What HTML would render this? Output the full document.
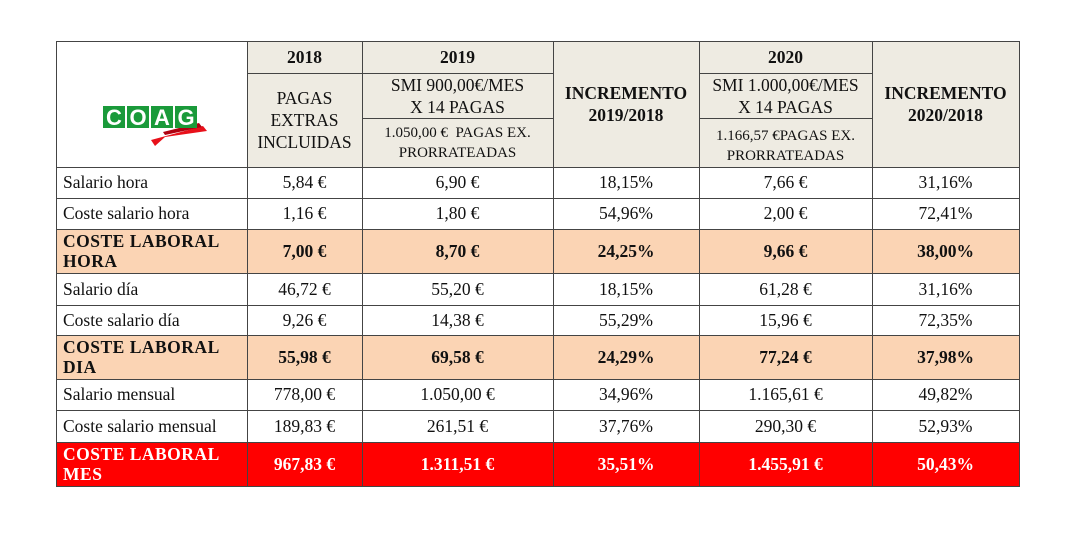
<!DOCTYPE html>
<html><head><meta charset="utf-8">
<style>
body{margin:0;width:1076px;height:555px;background:#fff;position:relative;overflow:hidden;font-family:"Liberation Serif",serif;color:#111}
.c{position:absolute;box-sizing:border-box;display:flex;align-items:center;justify-content:center;text-align:center;font-size:17.5px;line-height:19px}
.l{justify-content:flex-start;text-align:left;padding-left:7px}
.b{font-weight:bold}
.lb{letter-spacing:0.5px;line-height:20px}
.hd{line-height:22px}
.hl{position:absolute;height:1px;background:#444}
.vl{position:absolute;width:1px;background:#444}
</style></head><body>
<div id="tbl"></div>
<div style="position:absolute;left:103px;top:106px;width:105px;height:42px">
<svg width="105" height="42" viewBox="0 0 105 42">
<path d="M48 34 L100 20 L104 25 L62 31 L52 40 Z" fill="#e8101a"/>
<path d="M60 26 L96 17 L99 21 L62 29 Z" fill="#b00010"/>
<rect x="0" y="0" width="22" height="22" fill="#1a9a3a"/><rect x="24" y="0" width="22" height="22" fill="#1a9a3a"/><rect x="48" y="0" width="22" height="22" fill="#1a9a3a"/><rect x="72" y="0" width="22" height="22" fill="#1a9a3a"/>
<text x="11" y="19" font-family="Liberation Sans" font-weight="bold" font-size="22" fill="#fff" text-anchor="middle">C</text>
<text x="35" y="19" font-family="Liberation Sans" font-weight="bold" font-size="22" fill="#fff" text-anchor="middle">O</text>
<text x="59" y="19" font-family="Liberation Sans" font-weight="bold" font-size="22" fill="#fff" text-anchor="middle">A</text>
<text x="83" y="19" font-family="Liberation Sans" font-weight="bold" font-size="22" fill="#fff" text-anchor="middle">G</text>
</svg></div>
<script>
const cols=[56,247,362,553,699,872,1019];
const rowsY=[167,198,229,273,305,335,379,410,442,486];
const labels=["Salario hora","Coste salario hora","COSTE LABORAL HORA","Salario día","Coste salario día","COSTE LABORAL DIA","Salario mensual","Coste salario mensual","COSTE LABORAL MES"];
const v2018=["5,84 €","1,16 €","7,00 €","46,72 €","9,26 €","55,98 €","778,00 €","189,83 €","967,83 €"];
const v2019=["6,90 €","1,80 €","8,70 €","55,20 €","14,38 €","69,58 €","1.050,00 €","261,51 €","1.311,51 €"];
const inc19=["18,15%","54,96%","24,25%","18,15%","55,29%","24,29%","34,96%","37,76%","35,51%"];
const v2020=["7,66 €","2,00 €","9,66 €","61,28 €","15,96 €","77,24 €","1.165,61 €","290,30 €","1.455,91 €"];
const inc20=["31,16%","72,41%","38,00%","31,16%","72,35%","37,98%","49,82%","52,93%","50,43%"];
const rowType=["n","n","p","n","n","p","n","n","r"];
const T=document.getElementById('tbl');
function cell(x,y,w,h,html,cls,bg,color,name){
  const d=document.createElement('div');
  d.className='c '+(cls||'');
  d.style.cssText=`left:${x}px;top:${y}px;width:${w}px;height:${h}px;`+(bg?`background:${bg};`:'')+(color?`color:${color};`:'');
  d.innerHTML=html;
  
  
  T.appendChild(d);return d;
}
const hb='#eeebe2';
cell(247,41,772,126,'','',hb,null,'header-background');
cell(247,41,115,32,'2018','b',null,null,'header-2018');
cell(362,41,191,32,'2019','b',null,null,'header-2019');
cell(553,41,146,126,'INCREMENTO<br>2019/2018','b hd',null,null,'header-increment-2019');
cell(699,41,173,32,'2020','b',null,null,'header-2020');
cell(872,41,147,126,'INCREMENTO<br>2020/2018','b hd',null,null,'header-increment-2020');
cell(247,73,115,94,'PAGAS<br>EXTRAS<br>INCLUIDAS','hd',null,null,'header-2018-sub');
cell(362,73,191,45,'SMI 900,00€/MES<br>X 14 PAGAS','hd',null,null,'header-2019-smi');
cell(362,118,191,49,'<span style="font-size:15px;line-height:20px">1.050,00 €&nbsp; PAGAS EX.<br>PRORRATEADAS</span>','',null,null,'header-2019-prorrata');
cell(699,73,173,45,'SMI 1.000,00€/MES<br>X 14 PAGAS','hd',null,null,'header-2020-smi');
cell(699,118,173,49,'<span style="font-size:15px;line-height:20px;padding-top:6px">1.166,57 €PAGAS EX.<br>PRORRATEADAS</span>','',null,null,'header-2020-prorrata');
const cols5=[labels,v2018,v2019,inc19,v2020,inc20];
for(let i=0;i<labels.length;i++){
  const y=rowsY[i],h=rowsY[i+1]-y,t=rowType[i];
  const bg=t==='p'?'#fbd4b4':t==='r'?'#ff0000':null;
  const fc=t==='r'?'#fff':null;
  if(bg) cell(56,y,963,h,'','',bg,null,'row-background-'+i);
  for(let c=0;c<6;c++){
    let txt=cols5[c][i];
    let cls=(c===0?'l ':'')+(t!=='n'?'b':'');
    if(c===0&&t!=='n'){const p=txt.split(' ');txt=p.slice(0,2).join(' ')+'<br>'+p.slice(2).join(' ');cls+=' lb';}
    cell(cols[c],y,cols[c+1]-cols[c],h,txt,cls,null,fc,'cell-r'+i+'-c'+c);
  }
}
function hl(x1,x2,y){const d=document.createElement('div');d.className='hl';d.style.cssText=`left:${x1}px;top:${y}px;width:${x2-x1+1}px`;T.appendChild(d);}
function vl(x,y1,y2){const d=document.createElement('div');d.className='vl';d.style.cssText=`left:${x}px;top:${y1}px;height:${y2-y1+1}px`;T.appendChild(d);}
hl(56,1019,41);
hl(247,553,73);hl(699,872,73);
hl(362,553,118);hl(699,872,118);
rowsY.forEach(y=>hl(56,1019,y));
cols.forEach(x=>vl(x,41,486));
</script>
</body></html>
